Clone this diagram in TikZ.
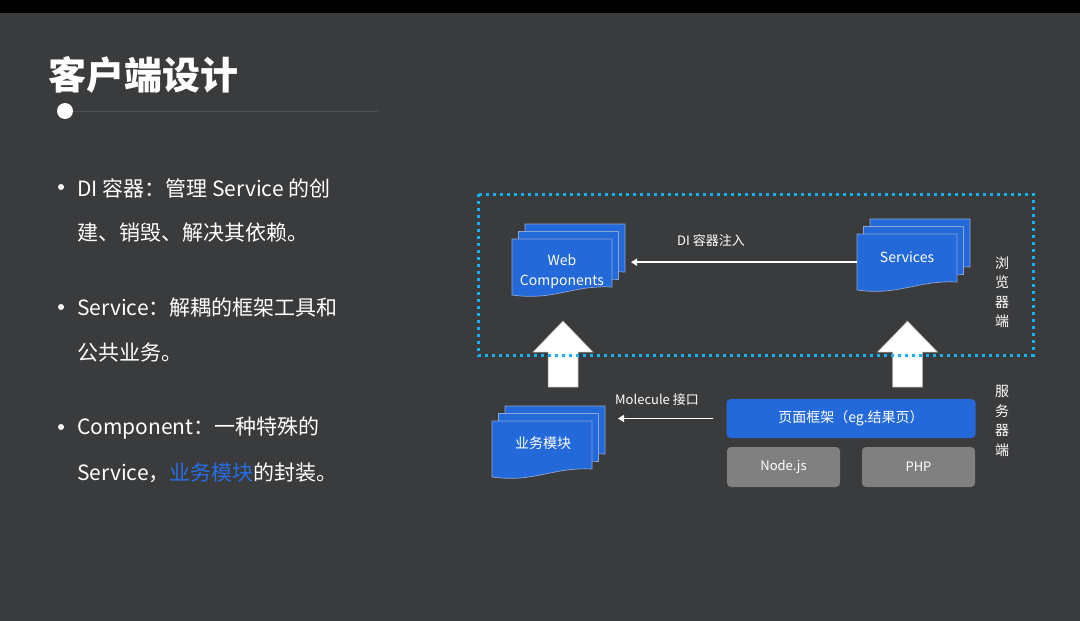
\documentclass[tikz,border=0pt]{standalone}
\usepackage{fontspec}
\setmainfont{Noto Sans CJK SC}
\usetikzlibrary{arrows.meta}
\definecolor{bgdark}{RGB}{58,59,61}
\definecolor{docblue}{RGB}{35,105,217}
\definecolor{docedge}{RGB}{140,165,210}
\definecolor{dotcyan}{RGB}{22,178,240}
\definecolor{boxgray}{RGB}{128,128,128}
\definecolor{rulegray}{RGB}{78,79,82}
\definecolor{keyblue}{RGB}{40,110,230}
% 文档形状：左上角 (x,y)，宽 100，底边波浪
\newcommand{\docpath}[2]{({#1},{#2}) -- ({#1+100},{#2}) -- ({#1+100},{#2+48})
  .. controls ({#1+60},{#2+46}) and ({#1+42},{#2+62}) .. ({#1},{#2+56}) -- cycle}
% 三层文档堆叠
\newcommand{\docstack}[3]{%
  \foreach \k in {2,1,0}
    \filldraw[docfill] \docpath{#2+6.5*\k}{#3-7.5*\k};
  \node[docarea,anchor=north west] (#1) at (#2,#3) {};
  \coordinate (#1-back) at ({#2+113},{#3-15});
}

\begin{document}
\begin{tikzpicture}[x=1pt,y=-1pt,>={Triangle[length=6pt,width=7pt]},
  docfill/.style={fill=docblue,draw=docedge,line width=0.7pt},
  docarea/.style={minimum width=100pt,minimum height=56pt,inner sep=0pt},
  doctext/.style={text=white,font=\fontsize{14}{20}\selectfont,align=center},
  labeltext/.style={text=white,font=\fontsize{13}{16}\selectfont},
  sidetext/.style={text=white,font=\fontsize{14}{19.5}\selectfont,align=center},
  flow/.style={->,draw=white,line width=1.6pt},
  grayblock/.style={fill=boxgray,rounded corners=4pt,minimum width=113pt,minimum height=40pt,
    text=white,font=\fontsize{13}{16}\selectfont},
  bullettext/.style={anchor=west,text=white,font=\fontsize{21}{24}\selectfont,inner sep=0pt}]
\useasboundingbox (0,0) rectangle (1080,621);
% ---------- 背景 ----------
\fill[bgdark] (0,0) rectangle (1080,621);
\fill[black] (0,0) rectangle (1080,13);
% ---------- 标题 ----------
\node[anchor=west,text=white,inner sep=0pt,font=\fontsize{38}{40}\selectfont\bfseries] (title) at (48,75) {客户端设计};
\node[circle,fill=white,minimum size=16pt,inner sep=0pt] (dot) at (65,111) {};
\draw[rulegray,line width=1pt] (dot) -- (378,111);
% ---------- 要点 ----------
\foreach \by in {187,307,427}
  \fill[white] (61,\by) circle (3);
\node[bullettext] (l1) at (77,188) {DI 容器：管理 Service 的创};
\node[bullettext] (l2) at (77,233) {建、销毁、解决其依赖。};
\node[bullettext] (l3) at (77,308) {Service：解耦的框架工具和};
\node[bullettext] (l4) at (77,353) {公共业务。};
\node[bullettext] (l5) at (77,428) {Component：一种特殊的};
\node[bullettext] (l6) at (77,473) {Service，\textcolor{keyblue}{业务模块}的封装。};
% ---------- 向上的空心箭头 ----------
\foreach \ax in {563,907.5}
  \filldraw[fill=white,draw=gray!70,line width=0.5pt] ({\ax-15},387) -- ({\ax-15},352) -- ({\ax-30},352)
    -- (\ax,321) -- ({\ax+30},352) -- ({\ax+15},352) -- ({\ax+15},387) -- cycle;
% ---------- 浏览器端 ----------
\docstack{web}{512}{239}
\node[doctext] (webtxt) at (562,272) {Web\\Components};
\docstack{svc}{857}{234}
\node[doctext] (svctxt) at (907,257) {Services};
\draw[flow,shorten >=6pt] (svc.west) -- (svc.west -| web-back);
\node[labeltext] (dilabel) at (711,241) {DI 容器注入};
\draw[dotcyan,line width=3pt,dash pattern=on 3pt off 4pt] (478,194) rectangle (1033,355);
\node[sidetext] (browser) at (1002,292) {浏\\览\\器\\端};
% ---------- 服务器端 ----------
\docstack{biz}{492}{421}
\node[doctext] (biztxt) at (543,443) {业务模块};
\node[fill=docblue,rounded corners=4pt,minimum width=249pt,minimum height=39pt,
  text=white,font=\fontsize{14}{16}\selectfont] (frame) at (851,418.5) {页面框架（eg.结果页）};
\node[grayblock] (nodejs) at (783.5,467) {\raisebox{-2pt}{Node.js}};
\node[grayblock] (php) at (918.5,467) {\raisebox{-2pt}{PHP}};
\draw[flow,shorten <=13pt,shorten >=13pt] (frame.west) -- (frame.west -| biz-back);
\node[labeltext] (mollabel) at (657,400) {Molecule 接口};
\node[sidetext] (server) at (1002,421) {服\\务\\器\\端};
\end{tikzpicture}
\end{document}
